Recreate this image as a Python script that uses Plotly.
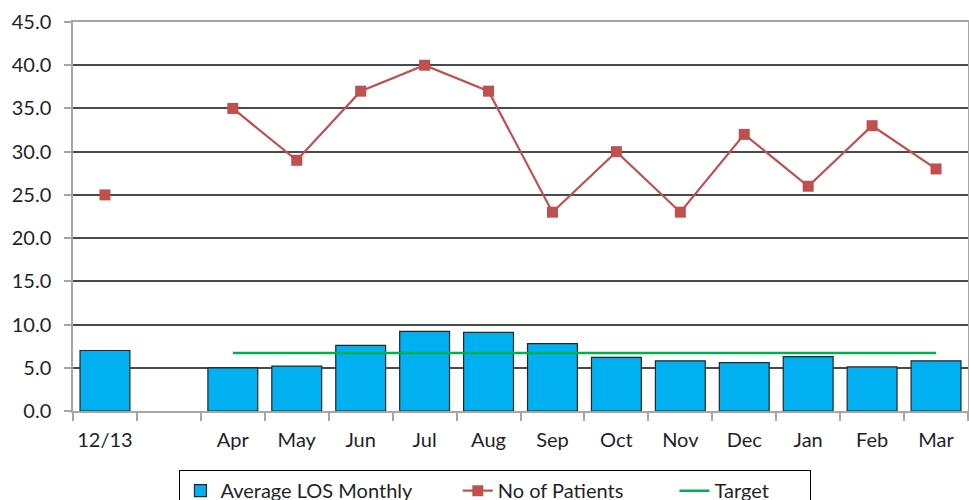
import plotly.graph_objects as go

# Categories: prior-year summary, a spacer, then the months of the year
categories = ["12/13", " ", "Apr", "May", "Jun", "Jul", "Aug", "Sep",
              "Oct", "Nov", "Dec", "Jan", "Feb", "Mar"]

avg_los = [7.0, None, 5.0, 5.2, 7.6, 9.2, 9.1, 7.8, 6.2, 5.8, 5.6, 6.3, 5.1, 5.8]
patients = [25, None, 35, 29, 37, 40, 37, 23, 30, 23, 32, 26, 33, 28]
target_months = categories[2:]
target_value = 6.7
target = [target_value] * len(target_months)

y_ticks = [0, 5, 10, 15, 20, 25, 30, 35, 40, 45]

FONT = "Lato"
TEXT = "#1f1f2a"
NBSP = "\u00a0"

fig = go.Figure()

fig.add_trace(go.Bar(
    x=categories, y=avg_los, name="Average LOS Monthly" + NBSP * 8,
    marker=dict(color="#00B0F0", line=dict(color="#262626", width=1.2)),
    width=0.78,
))

fig.add_trace(go.Scatter(
    x=categories, y=patients, name="No of Patients" + NBSP * 9,
    mode="lines+markers", connectgaps=False,
    line=dict(color="#C0504D", width=2.2),
    marker=dict(symbol="square", size=11, color="#C0504D"),
))

fig.add_trace(go.Scatter(
    x=target_months, y=target, name="Target" + NBSP * 7,
    mode="lines",
    line=dict(color="#00B050", width=2.5),
))

fig.update_layout(
    width=969, height=500,
    margin=dict(l=73, r=1, t=22, b=89, autoexpand=False),
    paper_bgcolor="white", plot_bgcolor="white",
    font=dict(family=FONT, size=20, color=TEXT),
    showlegend=True,
    legend=dict(
        orientation="h", x=0.472, xanchor="center", y=-0.152, yanchor="top",
        bordercolor="#000000", borderwidth=1,
        font=dict(family=FONT, size=20, color=TEXT),
        traceorder="normal", itemwidth=30,
    ),
)

fig.update_xaxes(
    type="category", categoryorder="array", categoryarray=categories,
    range=[-0.5, len(categories) - 0.5],
    showline=True, linecolor="#A6A6A6", linewidth=1.5, mirror=True,
    ticks="outside", tickson="boundaries", ticklen=8, tickcolor="#A6A6A6",
    tickwidth=1.5, showgrid=False, tickangle=0,
    ticklabelstandoff=10,
    tickfont=dict(family=FONT, size=20, color=TEXT),
)

fig.update_yaxes(
    range=[0, 45], tickvals=y_ticks,
    ticktext=[f"{v:.1f}" for v in y_ticks],
    showline=True, linecolor="#A6A6A6", linewidth=1.5, mirror=True,
    ticks="outside", ticklen=7, tickcolor="#A6A6A6", tickwidth=1.5,
    showgrid=True, gridcolor="#4a4a4a", gridwidth=1.5,
    zeroline=False,
    ticklabelstandoff=9,
    tickfont=dict(family=FONT, size=20, color=TEXT),
)

fig.write_html("out.html")
